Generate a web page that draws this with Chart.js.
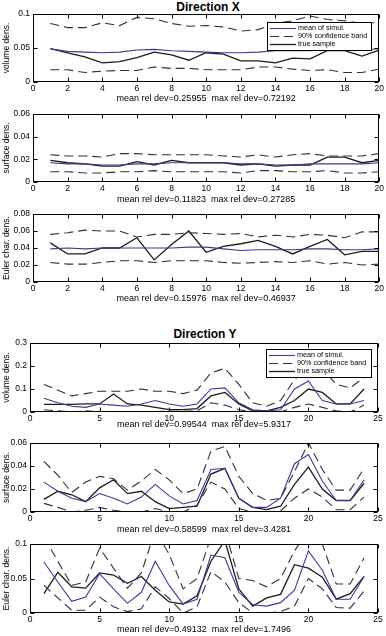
<!DOCTYPE html>
<html><head><meta charset="utf-8">
<script src="https://cdn.jsdelivr.net/npm/chart.js@4.4.1/dist/chart.umd.min.js"></script>
<style>
html,body{margin:0;padding:0;background:#fff;width:386px;height:636px;overflow:hidden;position:relative;font-family:"Liberation Sans",Arial,sans-serif}
.ttl{position:absolute;text-align:center;font-weight:bold;font-size:12px;line-height:14px;color:#000}
canvas{position:absolute;left:0}
</style></head><body>
<div class="ttl" style="top:0px;left:33px;width:350px">Direction X</div>
<div class="ttl" style="top:327px;left:30px;width:350px">Direction Y</div>
<canvas id="c1"></canvas><canvas id="c2"></canvas><canvas id="c3"></canvas>
<canvas id="c4"></canvas><canvas id="c5"></canvas><canvas id="c6"></canvas>
<script>
// ---------- data ----------
const idxX = [1,2,3,4,5,6,7,8,9,10,11,12,13,14,15,16,17,18,19,20];
const idxY = [1,2,3,4,5,6,7,8,9,10,11,12,13,14,15,16,17,18,19,20,21,22,23,24];
const xTicksX = [0,2,4,6,8,10,12,14,16,18,20];
const xTicksY = [0,5,10,15,20,25];

const legendLabels = ['mean of simul.','90% confidence band','true sample'];

// Direction X - volume density
const volXMean = [0.049,0.045,0.044,0.043,0.044,0.047,0.048,0.046,0.045,0.044,0.043,0.043,0.044,0.046,0.046,0.046,0.047,0.047,0.047,0.049];
const volXTrue = [0.049,0.043,0.037,0.028,0.030,0.036,0.044,0.040,0.032,0.043,0.041,0.031,0.031,0.028,0.035,0.034,0.046,0.046,0.038,0.047];
const volXHigh = [0.086,0.080,0.080,0.087,0.083,0.095,0.093,0.086,0.082,0.083,0.081,0.075,0.077,0.086,0.090,0.097,0.092,0.090,0.086,0.088];
const volXLow  = [0.018,0.018,0.014,0.016,0.017,0.017,0.022,0.020,0.020,0.018,0.018,0.018,0.022,0.022,0.019,0.017,0.018,0.014,0.014,0.019];
const volXTicks = [0,0.05,0.1];

// Direction X - surface density
const surXMean = [0.017,0.016,0.016,0.015,0.015,0.016,0.016,0.017,0.017,0.017,0.017,0.016,0.016,0.015,0.015,0.016,0.016,0.016,0.016,0.017];
const surXTrue = [0.019,0.017,0.016,0.014,0.014,0.018,0.015,0.019,0.017,0.017,0.017,0.015,0.016,0.014,0.015,0.015,0.022,0.022,0.017,0.019];
const surXHigh = [0.024,0.023,0.023,0.022,0.025,0.025,0.024,0.024,0.024,0.024,0.023,0.022,0.024,0.022,0.024,0.025,0.023,0.023,0.023,0.025];
const surXLow  = [0.009,0.009,0.008,0.008,0.009,0.009,0.010,0.009,0.009,0.009,0.009,0.008,0.010,0.010,0.009,0.009,0.010,0.008,0.008,0.009];
const surXTicks = [0,0.02,0.04,0.06];

// Direction X - Euler characteristic density
const eulXMean = [0.039,0.040,0.039,0.040,0.040,0.040,0.040,0.040,0.041,0.041,0.039,0.037,0.038,0.038,0.038,0.039,0.039,0.038,0.038,0.039];
const eulXTrue = [0.046,0.033,0.033,0.040,0.040,0.052,0.026,0.044,0.060,0.035,0.042,0.045,0.049,0.042,0.033,0.042,0.050,0.032,0.036,0.036];
const eulXHigh = [0.056,0.058,0.061,0.060,0.060,0.053,0.056,0.056,0.058,0.057,0.056,0.057,0.053,0.055,0.053,0.056,0.055,0.052,0.059,0.059];
const eulXLow  = [0.023,0.021,0.021,0.023,0.025,0.025,0.023,0.025,0.025,0.025,0.023,0.022,0.023,0.024,0.023,0.025,0.021,0.023,0.020,0.021];
const eulXTicks = [0,0.02,0.04,0.06,0.08];

// Direction Y - volume density
const volYMean = [0.060,0.040,0.025,0.020,0.035,0.030,0.025,0.035,0.050,0.035,0.025,0.035,0.100,0.105,0.040,0.010,0.005,0.010,0.100,0.135,0.050,0.035,0.035,0.050];
const volYTrue = [0.033,0.033,0.033,0.035,0.035,0.078,0.035,0.030,0.020,0.010,0.010,0.015,0.070,0.085,0.035,0.005,0.005,0.020,0.050,0.100,0.085,0.035,0.035,0.100];
const volYHigh = [0.120,0.095,0.070,0.080,0.090,0.090,0.090,0.100,0.090,0.090,0.080,0.095,0.170,0.190,0.120,0.040,0.025,0.050,0.140,0.200,0.190,0.120,0.105,0.150];
const volYLow  = [0.010,0.005,0.000,0.005,0.000,0.002,0.000,0.000,0.002,0.003,0.003,0.005,0.040,0.030,0.010,0.000,0.000,0.000,0.020,0.035,0.020,0.005,0.000,0.030];
const volYTicks = [0,0.1,0.2,0.3];

// Direction Y - surface density
const surYMean = [0.026,0.018,0.012,0.009,0.016,0.012,0.007,0.013,0.024,0.014,0.007,0.010,0.037,0.038,0.012,0.004,0.004,0.012,0.042,0.050,0.027,0.010,0.010,0.028];
const surYTrue = [0.011,0.018,0.015,0.009,0.021,0.028,0.016,0.018,0.009,0.003,0.004,0.005,0.033,0.038,0.012,0.004,0.002,0.005,0.024,0.039,0.020,0.010,0.010,0.025];
const surYHigh = [0.044,0.032,0.017,0.026,0.031,0.029,0.019,0.027,0.037,0.028,0.016,0.020,0.053,0.057,0.031,0.016,0.010,0.012,0.035,0.060,0.037,0.019,0.019,0.038];
const surYLow  = [0.0075,0.004,0.000,0.0015,0.004,0.0015,0.000,0.000,0.003,0.000,0.000,0.006,0.026,0.020,0.003,0.000,0.000,0.001,0.012,0.020,0.013,0.002,0.002,0.013];
const surYTicks = [0,0.02,0.04,0.06];

// Direction Y - Euler characteristic density
const eulYMean = [0.074,0.045,0.017,0.023,0.057,0.035,0.014,0.030,0.075,0.040,0.013,0.020,0.084,0.080,0.030,0.012,0.010,0.015,0.033,0.090,0.062,0.020,0.020,0.053];
const eulYTrue = [0.028,0.059,0.038,0.036,0.058,0.055,0.043,0.053,0.033,0.016,0.013,0.025,0.075,0.105,0.035,0.010,0.022,0.027,0.070,0.065,0.052,0.020,0.028,0.053];
const eulYHigh = [0.110,0.075,0.040,0.045,0.094,0.065,0.036,0.058,0.120,0.085,0.035,0.050,0.110,0.120,0.050,0.047,0.038,0.050,0.090,0.120,0.100,0.042,0.042,0.080];
const eulYLow  = [0.040,0.022,0.004,0.004,0.023,0.009,0.002,0.006,0.038,0.021,0.000,0.009,0.060,0.045,0.015,0.000,0.000,0.002,0.010,0.050,0.035,0.008,0.007,0.032];
const eulYTicks = [0,0.05,0.1];

// ---------- styling ----------
const FONT = '"Liberation Sans", Arial, Helvetica, sans-serif';
Chart.defaults.font.family = FONT;
Chart.defaults.color = '#000';
const COL_MEAN = '#3a3a9a', COL_TRUE = '#1c1c1c', COL_BAND = '#2e2e46';

const boxTicks = {
  id:'boxTicks',
  afterDraw(chart){
    const {ctx, chartArea:a, scales:{x,y}} = chart;
    const L = 4;
    ctx.save();
    ctx.strokeStyle = '#000'; ctx.lineWidth = 1; ctx.setLineDash([]);
    const l = Math.round(a.left)+0.5, r = Math.round(a.right)-0.5, t = Math.round(a.top)+0.5, b = Math.round(a.bottom)-0.5;
    ctx.strokeRect(l, t, r-l, b-t);
    ctx.beginPath();
    x.ticks.forEach(tk=>{
      const px = Math.round(x.getPixelForValue(tk.value))+0.5;
      ctx.moveTo(px,b); ctx.lineTo(px,b-L);
      ctx.moveTo(px,t); ctx.lineTo(px,t+L);
    });
    y.ticks.forEach(tk=>{
      const py = Math.round(y.getPixelForValue(tk.value))+0.5;
      ctx.moveTo(l,py); ctx.lineTo(l+L,py);
      ctx.moveTo(r,py); ctx.lineTo(r-L,py);
    });
    ctx.stroke();
    ctx.restore();
  }
};

const boxLegend = {
  id:'boxLegend',
  afterDraw(chart, args, o){
    if(!o || !o.show) return;
    const {ctx, chartArea:a} = chart;
    const x1 = Math.round(a.right - o.right - o.w), y1 = Math.round(a.top + o.top);
    ctx.save();
    ctx.fillStyle = '#fff'; ctx.fillRect(x1, y1, o.w, o.h);
    ctx.strokeStyle = '#000'; ctx.lineWidth = 1; ctx.setLineDash([]);
    ctx.strokeRect(x1+0.5, y1+0.5, o.w, o.h);
    ctx.font = '7.2px ' + FONT; ctx.textBaseline = 'middle'; ctx.fillStyle = '#000';
    const ds = chart.data.datasets;
    o.items.forEach((dsi, i)=>{
      const d = ds[dsi];
      const yy = Math.round(y1 + o.rowTop + i*o.rowGap) + 0.5;
      ctx.beginPath();
      ctx.setLineDash(d.borderDash || []);
      ctx.strokeStyle = d.borderColor; ctx.lineWidth = d.borderWidth;
      ctx.moveTo(x1+3, yy); ctx.lineTo(x1+29, yy); ctx.stroke();
      ctx.setLineDash([]);
      ctx.fillText(legendLabels[i], x1+31, yy);
    });
    ctx.restore();
  }
};

function pts(xs, ys){ return xs.map((v,i)=>({x:v, y:ys[i]})); }

function panel(id, g, xs, xTicks, xMax, high, low, mean, tru, yTicks, yLabel, xLabel, legend){
  const cv = document.getElementById(id);
  const H = Math.round(g.xl + 5.4 - g.ct);
  cv.width = 386; cv.height = H; cv.style.top = g.ct + 'px';
  const band = {borderColor:COL_BAND, borderWidth:1.1, borderDash:[9,5], pointRadius:0, fill:false, tension:0};
  new Chart(cv, {
    type:'line',
    data:{datasets:[
      Object.assign({label:'upper', data:pts(xs,high)}, band),
      Object.assign({label:'lower', data:pts(xs,low)}, band),
      {label:'mean', data:pts(xs,mean), borderColor:COL_MEAN, borderWidth:1.1, pointRadius:0, fill:false, tension:0},
      {label:'true', data:pts(xs,tru), borderColor:COL_TRUE, borderWidth:1.3, pointRadius:0, fill:false, tension:0}
    ]},
    options:{
      responsive:false, animation:false, devicePixelRatio:1,
      layout:{autoPadding:false, padding:{left:0, right:386-g.right, top:g.at-g.ct, bottom:0}},
      scales:{
        x:{type:'linear', min:0, max:xMax,
           afterBuildTicks:s=>{ s.ticks = xTicks.map(v=>({value:v})); },
           afterFit:s=>{ s.height = H - (g.ab - g.ct); },
           grid:{display:false, drawTicks:false}, border:{display:false},
           ticks:{padding:2, maxRotation:0, autoSkip:false, font:{size:8.5}, callback:v=>String(v)},
           title:{display:true, text:xLabel, font:{size:9}, padding:{top:0,bottom:0}}},
        y:{type:'linear', min:0, max:yTicks[yTicks.length-1],
           afterBuildTicks:s=>{ s.ticks = yTicks.map(v=>({value:v})); },
           afterFit:s=>{ s.width = g.left; },
           grid:{display:false, drawTicks:false}, border:{display:false},
           ticks:{padding:3, autoSkip:false, font:{size:8.5}, callback:v=>String(v)},
           title:{display:true, text:yLabel, font:{size:8.5}, padding:{top:2,bottom:0}}}
      },
      plugins:{legend:{display:false}, tooltip:{enabled:false},
        boxLegend: legend || {show:false}}
    },
    plugins:[boxTicks, boxLegend]
  });
}

const legX = {show:true, right:8, top:8, w:104, h:28, rowTop:5.5, rowGap:8, items:[2,0,3]};
const legY = {show:true, right:7, top:6, w:105, h:28, rowTop:6, rowGap:8, items:[2,0,3]};

panel('c1', {ct:4, at:14, ab:82, xl:99, left:33, right:381}, idxX, xTicksX, 20, volXHigh, volXLow, volXMean, volXTrue, volXTicks, 'volume dens.', 'mean rel dev=0.25955  max rel dev=0.72192', legX);
panel('c2', {ct:104, at:114, ab:182, xl:200, left:33, right:381}, idxX, xTicksX, 20, surXHigh, surXLow, surXMean, surXTrue, surXTicks, 'surface dens.', 'mean rel dev=0.11823  max rel dev=0.27285');
panel('c3', {ct:204, at:214, ab:282, xl:299, left:33, right:381}, idxX, xTicksX, 20, eulXHigh, eulXLow, eulXMean, eulXTrue, eulXTicks, 'Euler char. dens.', 'mean rel dev=0.15976  max rel dev=0.46937');
panel('c4', {ct:333, at:343, ab:412, xl:425, left:30, right:378}, idxY, xTicksY, 25, volYHigh, volYLow, volYMean, volYTrue, volYTicks, 'volume dens.', 'mean rel dev=0.99544  max rel dev=5.9317', legY);
panel('c5', {ct:433, at:443, ab:512, xl:530, left:30, right:378}, idxY, xTicksY, 25, surYHigh, surYLow, surYMean, surYTrue, surYTicks, 'surface dens.', 'mean rel dev=0.58599  max rel dev=3.4281');
panel('c6', {ct:534, at:544, ab:613, xl:630, left:30, right:378}, idxY, xTicksY, 25, eulYHigh, eulYLow, eulYMean, eulYTrue, eulYTicks, 'Euler char. dens.', 'mean rel dev=0.49132  max rel dev=1.7496');
</script>
</body></html>
